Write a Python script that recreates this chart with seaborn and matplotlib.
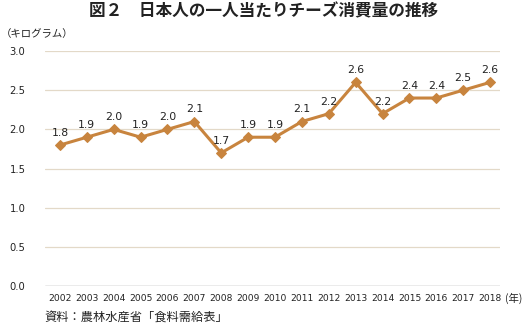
import matplotlib
matplotlib.use("Agg")
import matplotlib.pyplot as plt
import seaborn as sns
import pandas as pd

years = list(range(2002, 2019))
values = [1.8, 1.9, 2.0, 1.9, 2.0, 2.1, 1.7, 1.9, 1.9, 2.1, 2.2, 2.6, 2.2, 2.4, 2.4, 2.5, 2.6]
yticks = [0.0, 0.5, 1.0, 1.5, 2.0, 2.5, 3.0]

sns.set_style("white")
plt.rcParams['font.family'] = ['Noto Sans CJK JP', 'DejaVu Sans']

df = pd.DataFrame({"year": years, "value": values})

fig = plt.figure(figsize=(5.28, 3.27), dpi=100)
ax = fig.add_axes([0.085, 0.125, 0.862, 0.719])

for t in yticks[1:]:
    ax.axhline(t, color="#e3d9c8", lw=0.9, zorder=0)
ax.axhline(0, color="#9a9a9a", lw=1.0, zorder=1)

sns.lineplot(data=df, x="year", y="value", ax=ax, color="#c8843e", lw=2.2,
             marker="D", markersize=5.5, markeredgecolor="#c8843e", zorder=3)

for x, v in zip(years, values):
    ax.text(x, v + 0.09, f"{v:.1f}", ha="center", va="bottom", fontsize=7.8,
            color="#222222", family=['DejaVu Sans'])

ax.set_xlim(2001.44, 2018.37)
ax.set_ylim(0, 3.0)
ax.set_yticks(yticks)
ax.set_yticklabels([f"{t:.1f}" for t in yticks], fontsize=7.2, color="#222222",
                   family=['DejaVu Sans'], fontweight="medium")
ax.set_xticks(years)
ax.set_xticklabels([str(y) for y in years], fontsize=6.6, color="#222222",
                   family=['DejaVu Sans'], fontweight="medium")
ax.tick_params(axis='both', length=0, pad=6)
ax.tick_params(axis='y', pad=14)
for s in ax.spines.values():
    s.set_visible(False)
ax.set_xlabel("")
ax.set_ylabel("")

fig.text(0.5, 0.965, "図２　日本人の一人当たりチーズ消費量の推移", ha="center", va="center",
         fontsize=12, fontweight="bold", color="#222222")
fig.text(0.002, 0.895, "（キログラム）", ha="left", va="center", fontsize=7.5, color="#222222")
fig.text(0.957, 0.088, "(年)", ha="left", va="center", fontsize=7.5, color="#222222")
fig.text(0.085, 0.028, "資料：農林水産省「食料需給表」", ha="left", va="center", fontsize=8.8,
         color="#222222")

fig.savefig("out.png", dpi=100)
